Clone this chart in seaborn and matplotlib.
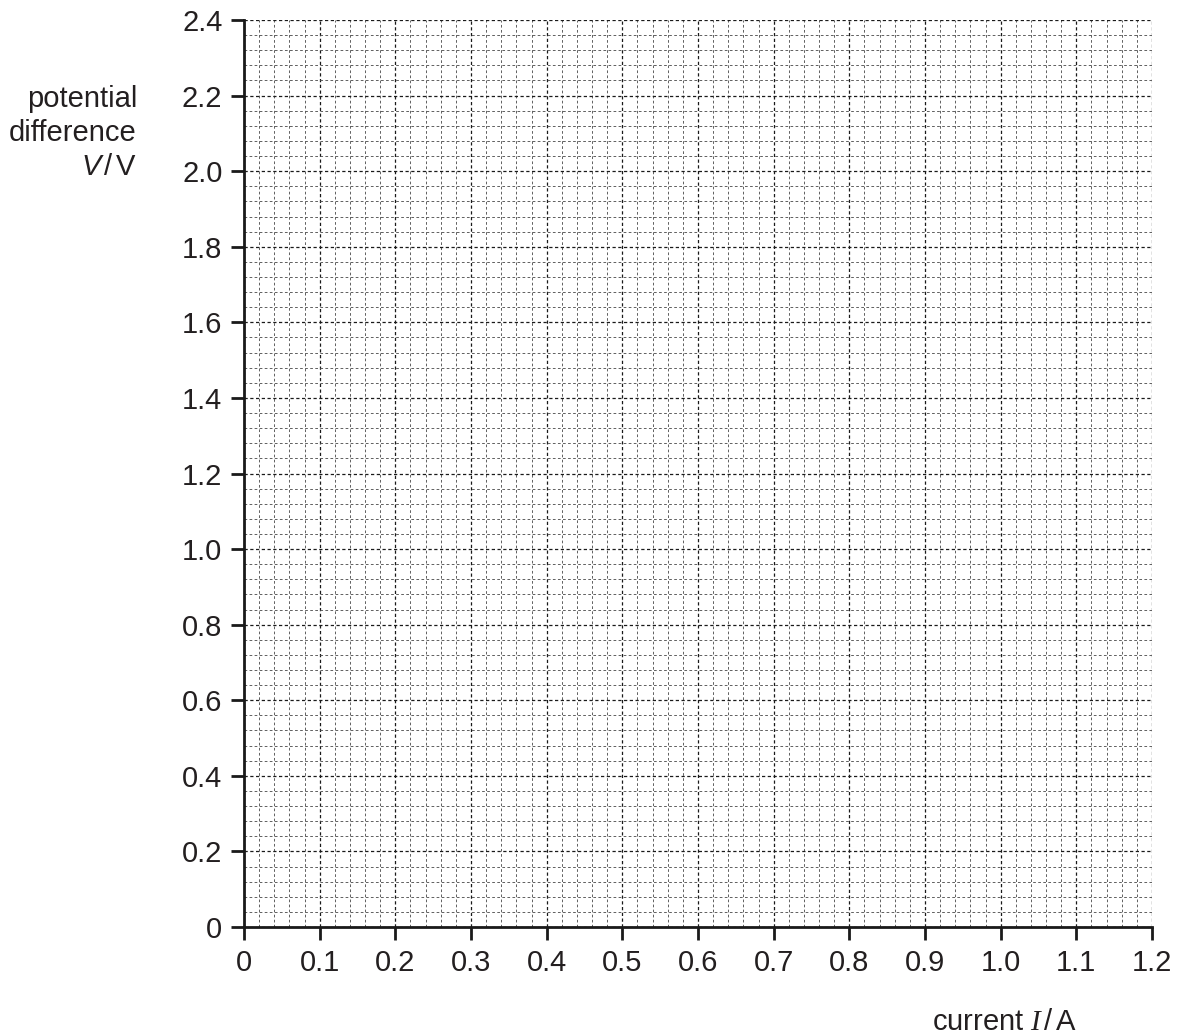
import numpy as np
import pandas as pd
import matplotlib
matplotlib.use("Agg")
import matplotlib.pyplot as plt
import seaborn as sns
from matplotlib.ticker import MultipleLocator

# Axis definitions (blank graph grid)
x_ticks = [0, 0.1, 0.2, 0.3, 0.4, 0.5, 0.6, 0.7, 0.8, 0.9, 1.0, 1.1, 1.2]
x_labels = ["0", "0.1", "0.2", "0.3", "0.4", "0.5", "0.6", "0.7", "0.8", "0.9", "1.0", "1.1", "1.2"]
y_ticks = [0, 0.2, 0.4, 0.6, 0.8, 1.0, 1.2, 1.4, 1.6, 1.8, 2.0, 2.2, 2.4]
y_labels = ["0", "0.2", "0.4", "0.6", "0.8", "1.0", "1.2", "1.4", "1.6", "1.8", "2.0", "2.2", "2.4"]
x_minor_step = 0.02
y_minor_step = 0.04

sns.set_style("white")
plt.rcParams['font.family'] = ['Liberation Sans', 'DejaVu Sans']
plt.rcParams['mathtext.fontset'] = 'custom'
plt.rcParams['mathtext.rm'] = 'Liberation Sans'
plt.rcParams['mathtext.sf'] = 'Liberation Sans:italic'
plt.rcParams['mathtext.it'] = 'Liberation Serif:italic'

W, H = 1182, 1035
fig = plt.figure(figsize=(W/100, H/100), dpi=100)
ax = fig.add_axes([244/W, 1-927/H, (1152-244)/W, (927-20)/H])

# empty data frame drawn through seaborn to establish the axes
df = pd.DataFrame({"I": pd.Series([], dtype=float), "V": pd.Series([], dtype=float)})
sns.lineplot(data=df, x="I", y="V", ax=ax)

ax.set_xlim(x_ticks[0], x_ticks[-1])
ax.set_ylim(y_ticks[0], y_ticks[-1])
ax.set_xticks(x_ticks)
ax.set_xticklabels(x_labels)
ax.set_yticks(y_ticks)
ax.set_yticklabels(y_labels)
ax.xaxis.set_minor_locator(MultipleLocator(x_minor_step))
ax.yaxis.set_minor_locator(MultipleLocator(y_minor_step))

ax.grid(which='minor', color='#555555', linestyle=(0, (3.0, 2.6)), linewidth=0.65)
ax.grid(which='major', color='#1a1a1a', linestyle=(0, (2.6, 2.0)), linewidth=0.9)
ax.set_axisbelow(True)

for s in ['top', 'right']:
    ax.spines[s].set_visible(False)
for s in ['left', 'bottom']:
    ax.spines[s].set_linewidth(2.0)
    ax.spines[s].set_color('#1a1a1a')
    ax.spines[s].set_zorder(5)

ax.tick_params(which='major', bottom=True, left=True, direction='out', length=9.5,
               width=2.0, color='#1a1a1a', labelsize=21, labelcolor='#231f20', pad=6)
ax.tick_params(which='minor', bottom=False, left=False, length=0)
ax.set_xlabel("")
ax.set_ylabel("")

tc = '#231f20'
# y axis title (three lines, right aligned)
fig.text(137/W, 1-107/H, "potential", ha='right', va='baseline', fontsize=21, color=tc)
fig.text(137/W, 1-141/H, "difference", ha='right', va='baseline', fontsize=21, color=tc)
fig.text(137/W, 1-175/H, r"$\mathsf{V}\,/\,\mathrm{V}$", ha='right', va='baseline', fontsize=21, color=tc)
# x axis title
fig.text(1077/W, 1-1030/H, r"current $\mathit{I}\,/\,\mathrm{A}$", ha='right', va='baseline', fontsize=21, color=tc)

fig.savefig("out.png", dpi=100)
